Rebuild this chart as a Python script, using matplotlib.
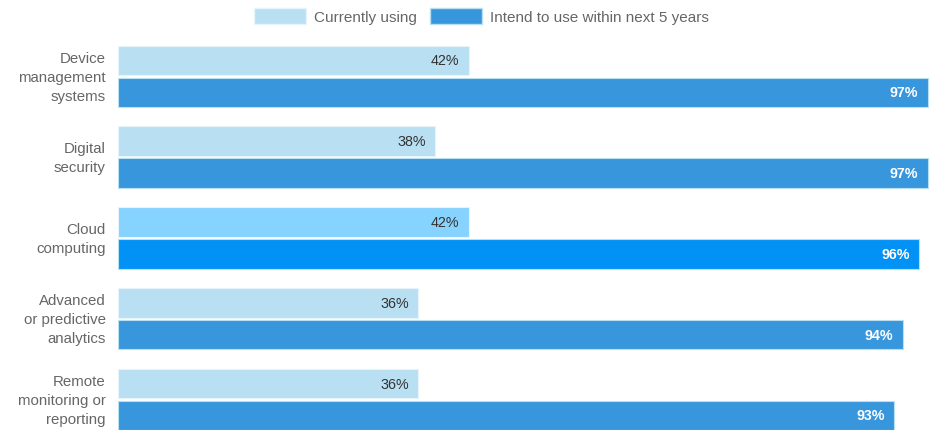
import matplotlib.pyplot as plt
from matplotlib.patches import Patch
from matplotlib.transforms import ScaledTranslation

categories = ["Device\nmanagement\nsystems", "Digital\nsecurity", "Cloud\ncomputing",
              "Advanced\nor predictive\nanalytics", "Remote\nmonitoring or\nreporting"]
current = [42, 38, 42, 36, 36]
intend = [97, 97, 96, 94, 93]
series_names = ["Currently using", "Intend to use within next 5 years"]

light = "#b8dff2"
dark = "#3796dc"
light_hi = "#87d3ff"
dark_hi = "#0291f5"
highlight = 2

plt.rcParams['font.family'] = ['Liberation Sans', 'DejaVu Sans']

fig = plt.figure(figsize=(9.31, 4.31), dpi=100)
ax = fig.add_axes([118 / 931, 0, 1 - 118 / 931, 391 / 431])

h = 0.365
off = 0.197
for i, (c, t) in enumerate(zip(current, intend)):
    lc = light_hi if i == highlight else light
    dc = dark_hi if i == highlight else dark
    ax.barh(i - off, c, height=h, color=lc, edgecolor="#e8f4fb", linewidth=0.8)
    ax.barh(i + off, t, height=h, color=dc, edgecolor="#b8dff2", linewidth=0.8)
    ax.text(c - 1.1, i - off, f"{c}%", ha="right", va="center", fontsize=10.3, color="#333333")
    ax.text(t - 1.1, i + off, f"{t}%", ha="right", va="center", fontsize=10.3,
            color="white", fontweight="bold")

ax.set_xlim(0, 97.4)
ax.set_ylim(4.377, -0.462)
ax.set_yticks(range(len(categories)))
ax.set_yticklabels(categories, fontsize=10.8, color="#666666", linespacing=1.45)
ax.tick_params(axis="y", length=0, pad=9)
# nudge category labels up a little
shift = ScaledTranslation(0, 3.5 / 100, fig.dpi_scale_trans)
for lbl in ax.get_yticklabels():
    lbl.set_transform(lbl.get_transform() + shift)
ax.set_xticks([])
for s in ax.spines.values():
    s.set_visible(False)

handles = [Patch(facecolor=light, edgecolor="#e8f4fb"), Patch(facecolor=dark, edgecolor="#b8dff2")]
fig.legend(handles, series_names, loc="upper center", bbox_to_anchor=(0.517, 1.01), ncol=2,
           frameon=False, fontsize=11, labelcolor="#666666", handlelength=3.4,
           handleheight=1.15, handletextpad=0.5, columnspacing=0.9)

fig.savefig("out.png", dpi=100)
